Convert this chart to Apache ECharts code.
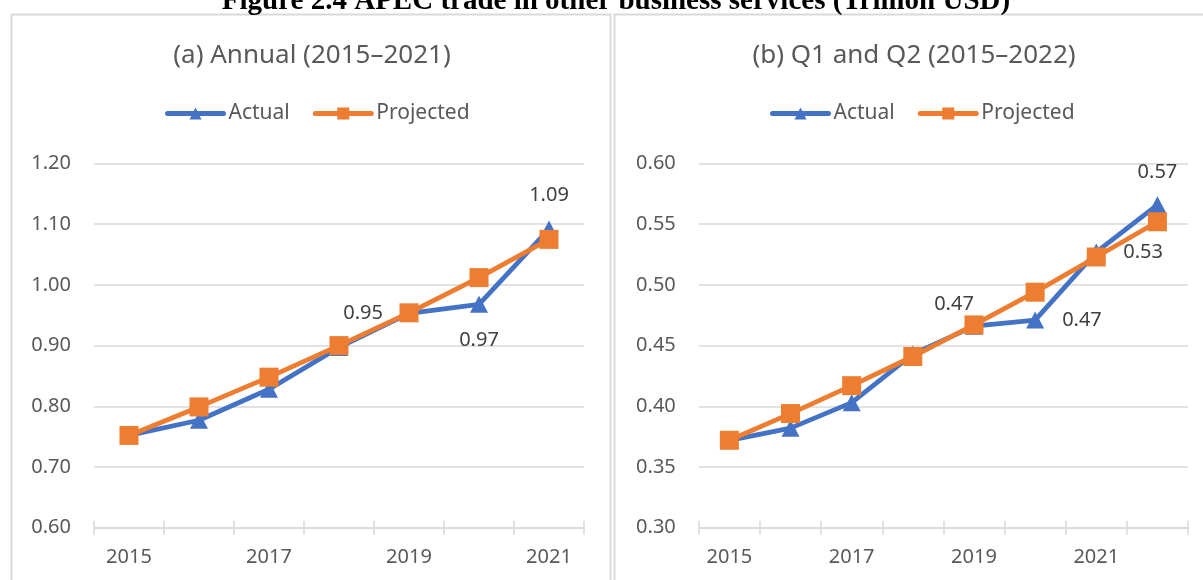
<!DOCTYPE html>
<html>
<head>
<meta charset="utf-8">
<script src="https://cdn.jsdelivr.net/npm/echarts@6/dist/echarts.min.js"></script>
<style>
html,body{margin:0;padding:0;background:#fff;}
#c{width:1203px;height:580px;}
</style>
</head>
<body>
<div id="c"></div>
<script>
// ---- data ----
const mainTitle = 'Figure 2.4 APEC trade in other business services (Trillion USD)';
const titleA = '(a) Annual (2015–2021)';
const titleB = '(b) Q1 and Q2 (2015–2022)';
const seriesNames = ['Actual', 'Projected'];
const yearsA = ['2015', '2016', '2017', '2018', '2019', '2020', '2021'];
const actualA = [0.752, 0.777, 0.828, 0.897, 0.953, 0.968, 1.092];
const projectedA = [0.752, 0.799, 0.848, 0.900, 0.954, 1.012, 1.075];
const yearsB = ['2015', '2016', '2017', '2018', '2019', '2020', '2021', '2022'];
const actualB = [0.372, 0.382, 0.403, 0.443, 0.466, 0.471, 0.527, 0.566];
const projectedB = [0.372, 0.394, 0.417, 0.441, 0.467, 0.494, 0.523, 0.552];
const yTicksA = { min: 0.6, max: 1.2, step: 0.1 };
const yTicksB = { min: 0.3, max: 0.6, step: 0.05 };

// ---- styling ----
const FONT = '"Noto Sans", "Open Sans", sans-serif';
const BLUE = '#4472C4';
const ORANGE = '#ED7D31';
const TXT = '#595959';
const GRIDC = '#d9d9d9';

// label placement for actual series (by index)
const labelsA = {
  4: { position: 'left', distance: 17 },
  5: { position: 'bottom', distance: 17 },
  6: { position: 'top', distance: 15 }
};
const labelsB = {
  4: { position: 'top', distance: 3, offset: [-20, 0] },
  5: { position: 'right', distance: 18 },
  6: { position: 'right', distance: 18 },
  7: { position: 'top', distance: 14 }
};

function withLabels(values, cfg) {
  return values.map((v, i) => {
    if (!cfg[i]) return v;
    return {
      value: v,
      label: Object.assign({
        show: true,
        formatter: (p) => p.value.toFixed(2),
        fontSize: 20,
        fontFamily: FONT,
        color: '#404040'
      }, cfg[i])
    };
  });
}

function xAxes(cats, gridIndex) {
  return [
    {
      type: 'category', gridIndex: gridIndex, data: cats, position: 'bottom',
      boundaryGap: true,
      axisLine: { show: true, lineStyle: { color: GRIDC, width: 1.5 } },
      axisTick: { show: true, interval: 0, length: 7, lineStyle: { color: GRIDC, width: 1.5 } },
      axisLabel: { interval: 1, color: TXT, fontSize: 20, fontFamily: FONT, margin: 20 }
    },
    {
      type: 'category', gridIndex: gridIndex, data: cats, position: 'bottom',
      boundaryGap: true,
      axisLine: { show: false },
      axisTick: { show: true, inside: true, interval: 0, length: 7, lineStyle: { color: GRIDC, width: 1.5 } },
      axisLabel: { show: false }
    }
  ];
}

function yAxis(t, gridIndex, dec) {
  return {
    type: 'value', gridIndex: gridIndex, min: t.min, max: t.max, interval: t.step,
    axisLine: { show: false }, axisTick: { show: false },
    splitLine: { lineStyle: { color: GRIDC, width: 1.5 } },
    axisLabel: { color: TXT, fontSize: 20, fontFamily: FONT, margin: 23, formatter: (v) => v.toFixed(dec) }
  };
}

function lineSeries(name, data, xi, yi, color, symbol, size, z) {
  return {
    name: name, type: 'line', xAxisIndex: xi, yAxisIndex: yi, data: data,
    symbol: symbol, symbolSize: size, showSymbol: true,
    lineStyle: { color: color, width: 4.8 },
    itemStyle: { color: color },
    z: z, animation: false
  };
}

const legendCommon = {
  itemWidth: 56, itemHeight: 15, itemGap: 23,
  lineStyle: { width: 5, cap: 'round' },
  textStyle: { color: TXT, fontSize: 21, fontFamily: FONT }
};

const chart = echarts.init(document.getElementById('c'), null, { renderer: 'canvas' });
chart.setOption({
  backgroundColor: '#fff',
  animation: false,
  title: [
    { text: titleA, left: 307, top: 38, textAlign: 'center',
      textStyle: { color: TXT, fontSize: 26, fontWeight: 'normal', fontFamily: FONT } },
    { text: titleB, left: 909, top: 38, textAlign: 'center',
      textStyle: { color: TXT, fontSize: 26, fontWeight: 'normal', fontFamily: FONT } }
  ],
  legend: [
    Object.assign({}, legendCommon, { left: 160, top: 98, data: [seriesNames[0], seriesNames[1]] }),
    Object.assign({}, legendCommon, { left: 765, top: 98, data: [seriesNames[0], seriesNames[1]] })
  ],
  graphic: [
    { type: 'rect', shape: { x: 11.5, y: 14.5, width: 599, height: 700 },
      style: { fill: 'none', stroke: GRIDC, lineWidth: 2 }, silent: true, z: -10 },
    { type: 'rect', shape: { x: 614.5, y: 14.5, width: 700, height: 700 },
      style: { fill: 'none', stroke: GRIDC, lineWidth: 2 }, silent: true, z: -10 },
    { type: 'text', x: 616, y: 16, style: { text: mainTitle, textAlign: 'center', textVerticalAlign: 'bottom',
      fontFamily: '"Liberation Serif", "Times New Roman", serif', fontWeight: 'bold', fontSize: 29, fill: '#000' } }
  ],
  grid: [
    { left: 94, right: 619, top: 163.5, bottom: 52.3 },
    { left: 698.8, right: 15, top: 163.5, bottom: 52.3 }
  ],
  xAxis: xAxes(yearsA, 0).concat(xAxes(yearsB, 1)),
  yAxis: [yAxis(yTicksA, 0, 2), yAxis(yTicksB, 1, 2)],
  series: [
    lineSeries(seriesNames[0], withLabels(actualA, labelsA), 0, 0, BLUE, 'triangle', [18, 17], 2),
    lineSeries(seriesNames[1], projectedA, 0, 0, ORANGE, 'rect', 19, 3),
    lineSeries(seriesNames[0], withLabels(actualB, labelsB), 2, 1, BLUE, 'triangle', [18, 17], 2),
    lineSeries(seriesNames[1], projectedB, 2, 1, ORANGE, 'rect', 19, 3)
  ]
});
</script>
</body>
</html>
